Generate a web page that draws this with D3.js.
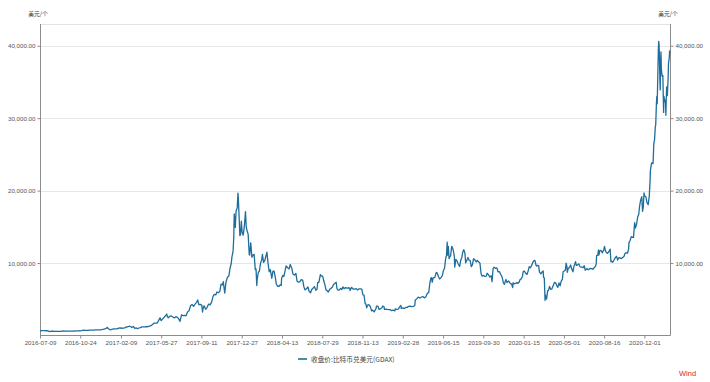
<!DOCTYPE html>
<html><head><meta charset="utf-8">
<script src="https://cdn.jsdelivr.net/npm/d3@7"></script>
<style>html,body{margin:0;padding:0;background:#fff;}svg{display:block;}</style>
</head><body>
<script>
// ---- data ----
const dates2016 = ["2016-07-09","2016-07-13","2016-07-17","2016-07-21","2016-07-25","2016-07-29","2016-08-01","2016-08-02","2016-08-05","2016-08-09","2016-08-13","2016-08-17","2016-08-21","2016-08-25","2016-08-29","2016-09-02","2016-09-06","2016-09-10","2016-09-14","2016-09-18","2016-09-22","2016-09-26","2016-09-30","2016-10-04","2016-10-08","2016-10-12","2016-10-16","2016-10-20","2016-10-24","2016-10-28","2016-11-01","2016-11-05","2016-11-09","2016-11-13","2016-11-17","2016-11-21","2016-11-25","2016-11-29","2016-12-03","2016-12-07","2016-12-11","2016-12-15","2016-12-19","2016-12-22","2016-12-26","2016-12-30"];
const closes2016 = [650,665,680,665,655,655,605,545,575,590,585,575,582,578,574,575,610,623,610,608,596,607,609,610,618,637,640,630,653,688,730,703,720,700,740,738,735,732,765,765,770,778,790,860,895,960];

const dates2017 = ["2017-01-01","2017-01-04","2017-01-05","2017-01-08","2017-01-11","2017-01-14","2017-01-18","2017-01-22","2017-01-26","2017-01-30","2017-02-03","2017-02-07","2017-02-11","2017-02-15","2017-02-19","2017-02-23","2017-02-27","2017-03-03","2017-03-07","2017-03-10","2017-03-14","2017-03-18","2017-03-22","2017-03-25","2017-03-29","2017-04-02","2017-04-06","2017-04-10","2017-04-14","2017-04-18","2017-04-22","2017-04-26","2017-04-30","2017-05-04","2017-05-08","2017-05-12","2017-05-16","2017-05-20","2017-05-24","2017-05-25","2017-05-27","2017-05-31","2017-06-04","2017-06-07","2017-06-11","2017-06-12","2017-06-15","2017-06-19","2017-06-23","2017-06-27","2017-07-01","2017-07-05","2017-07-09","2017-07-12","2017-07-16","2017-07-20","2017-07-24","2017-07-28","2017-08-01","2017-08-05","2017-08-09","2017-08-13","2017-08-17","2017-08-21","2017-08-25","2017-08-29","2017-09-01","2017-09-04","2017-09-08","2017-09-12","2017-09-14","2017-09-15","2017-09-18","2017-09-22","2017-09-26","2017-09-30","2017-10-04","2017-10-08","2017-10-12","2017-10-15","2017-10-19","2017-10-22","2017-10-26","2017-10-30","2017-11-02","2017-11-06","2017-11-08","2017-11-10","2017-11-12","2017-11-15","2017-11-19","2017-11-23","2017-11-26","2017-11-29","2017-12-01","2017-12-04","2017-12-06","2017-12-07","2017-12-08","2017-12-10","2017-12-12","2017-12-15","2017-12-17","2017-12-18","2017-12-20","2017-12-22","2017-12-24","2017-12-26","2017-12-28","2017-12-31"];
const closes2017 = [998,1130,1000,905,780,820,885,920,915,920,1015,1050,1000,1005,1050,1175,1190,1280,1230,1110,1245,970,1040,930,1040,1090,1195,1190,1180,1210,1240,1290,1350,1510,1700,1700,1720,2050,2450,2300,2050,2300,2520,2700,2960,2650,2450,2650,2700,2550,2430,2600,2500,2350,1950,2850,2750,2780,2730,3230,3400,4100,4300,4030,4340,4580,4900,4250,4300,4160,3240,3700,4100,3620,3890,4340,4220,4600,5440,5680,5600,6000,5900,6130,7100,6980,7450,6600,5860,7300,8050,8240,9300,9900,10850,11620,13700,16800,16300,14900,17200,17600,19650,18900,16500,13800,13900,15800,14300,13850];

const dates2018 = ["2018-01-03","2018-01-06","2018-01-08","2018-01-10","2018-01-13","2018-01-16","2018-01-17","2018-01-20","2018-01-23","2018-01-26","2018-01-29","2018-02-01","2018-02-03","2018-02-05","2018-02-06","2018-02-09","2018-02-12","2018-02-15","2018-02-18","2018-02-20","2018-02-23","2018-02-26","2018-03-01","2018-03-04","2018-03-07","2018-03-10","2018-03-13","2018-03-17","2018-03-20","2018-03-23","2018-03-26","2018-03-29","2018-04-01","2018-04-05","2018-04-08","2018-04-11","2018-04-12","2018-04-15","2018-04-18","2018-04-21","2018-04-24","2018-04-28","2018-05-02","2018-05-05","2018-05-09","2018-05-12","2018-05-16","2018-05-20","2018-05-23","2018-05-27","2018-05-30","2018-06-03","2018-06-07","2018-06-10","2018-06-13","2018-06-17","2018-06-21","2018-06-24","2018-06-28","2018-07-01","2018-07-05","2018-07-08","2018-07-12","2018-07-15","2018-07-17","2018-07-20","2018-07-24","2018-07-27","2018-07-30","2018-08-02","2018-08-05","2018-08-08","2018-08-11","2018-08-14","2018-08-18","2018-08-21","2018-08-25","2018-08-28","2018-09-01","2018-09-04","2018-09-06","2018-09-09","2018-09-12","2018-09-16","2018-09-19","2018-09-22","2018-09-25","2018-09-29","2018-10-02","2018-10-06","2018-10-10","2018-10-11","2018-10-15","2018-10-19","2018-10-23","2018-10-27","2018-10-31","2018-11-04","2018-11-08","2018-11-11","2018-11-14","2018-11-17","2018-11-19","2018-11-20","2018-11-22","2018-11-24","2018-11-25","2018-11-28","2018-12-01","2018-12-04","2018-12-07","2018-12-10","2018-12-14","2018-12-17","2018-12-19","2018-12-20","2018-12-24","2018-12-27","2018-12-31"];
const closes2018 = [15100,17100,15000,14500,14000,11200,11100,12800,10800,11100,11200,9100,9200,6900,7700,8700,8900,10000,10400,11200,10100,10300,10900,11500,9950,8800,9100,7900,8900,8900,8100,7100,6800,6800,7000,6900,7900,8300,8150,8900,9600,9350,9200,9800,9300,8500,8350,8550,7500,7350,7400,7700,7650,6750,6300,6450,6700,6100,5900,6350,6550,6750,6250,6350,7320,7350,8400,8200,8200,7550,7030,6300,6200,6000,6400,6480,6700,7050,7200,7350,6500,6250,6280,6500,6350,6720,6450,6610,6540,6590,6550,6200,6650,6420,6410,6460,6300,6450,6430,6410,5600,5580,4800,4400,4350,3820,4000,4260,4200,3950,3400,3500,3260,3550,3750,4050,4050,3600,3700];

const dates2019 = ["2019-01-03","2019-01-06","2019-01-09","2019-01-10","2019-01-14","2019-01-18","2019-01-22","2019-01-26","2019-01-29","2019-02-02","2019-02-07","2019-02-08","2019-02-12","2019-02-16","2019-02-19","2019-02-23","2019-02-24","2019-02-28","2019-03-04","2019-03-08","2019-03-12","2019-03-16","2019-03-20","2019-03-24","2019-03-28","2019-04-01","2019-04-02","2019-04-06","2019-04-10","2019-04-14","2019-04-18","2019-04-22","2019-04-26","2019-04-30","2019-05-04","2019-05-08","2019-05-11","2019-05-14","2019-05-16","2019-05-17","2019-05-20","2019-05-24","2019-05-28","2019-05-30","2019-06-03","2019-06-06","2019-06-10","2019-06-13","2019-06-16","2019-06-19","2019-06-22","2019-06-24","2019-06-26","2019-06-27","2019-06-29","2019-07-01","2019-07-02","2019-07-05","2019-07-08","2019-07-10","2019-07-12","2019-07-15","2019-07-16","2019-07-19","2019-07-22","2019-07-25","2019-07-29","2019-08-01","2019-08-04","2019-08-06","2019-08-09","2019-08-12","2019-08-14","2019-08-17","2019-08-20","2019-08-23","2019-08-26","2019-08-29","2019-09-01","2019-09-04","2019-09-07","2019-09-11","2019-09-14","2019-09-18","2019-09-21","2019-09-24","2019-09-27","2019-10-01","2019-10-04","2019-10-08","2019-10-10","2019-10-14","2019-10-17","2019-10-21","2019-10-23","2019-10-25","2019-10-26","2019-10-29","2019-11-01","2019-11-05","2019-11-08","2019-11-12","2019-11-15","2019-11-18","2019-11-21","2019-11-22","2019-11-25","2019-11-29","2019-12-02","2019-12-06","2019-12-10","2019-12-14","2019-12-17","2019-12-18","2019-12-21","2019-12-25","2019-12-28","2019-12-31"];
const closes2019 = [3790,4050,4000,3620,3640,3600,3580,3570,3430,3500,3400,3660,3610,3630,3920,4140,3730,3810,3720,3870,3880,4030,4040,3990,4030,4140,4900,5050,5300,5170,5280,5380,5200,5330,5800,5950,7250,8000,7900,7350,8000,7980,8720,8660,8100,7800,8020,8250,8980,9280,10700,11000,12900,11100,12300,10600,10800,11000,12300,12100,11800,10900,9450,10500,10300,9900,9520,10400,10800,11450,11850,11400,10030,10370,10770,10400,10350,9500,9750,10600,10480,10150,10350,10150,9990,8530,8190,8300,8150,8200,8590,8370,8080,8230,7440,8650,9250,9430,9260,9330,8800,8810,8460,8200,7620,7290,7050,7740,7300,7540,7220,7090,6620,7280,7140,7200,7300,7200];

const dates2020 = ["2020-01-03","2020-01-06","2020-01-09","2020-01-12","2020-01-14","2020-01-17","2020-01-20","2020-01-24","2020-01-27","2020-01-30","2020-02-02","2020-02-06","2020-02-09","2020-02-12","2020-02-14","2020-02-17","2020-02-19","2020-02-21","2020-02-24","2020-02-26","2020-03-01","2020-03-04","2020-03-07","2020-03-08","2020-03-10","2020-03-12","2020-03-13","2020-03-16","2020-03-19","2020-03-21","2020-03-24","2020-03-27","2020-03-30","2020-04-02","2020-04-06","2020-04-09","2020-04-12","2020-04-15","2020-04-18","2020-04-21","2020-04-24","2020-04-27","2020-04-29","2020-05-02","2020-05-05","2020-05-07","2020-05-09","2020-05-10","2020-05-13","2020-05-16","2020-05-19","2020-05-22","2020-05-25","2020-05-28","2020-06-01","2020-06-03","2020-06-07","2020-06-10","2020-06-13","2020-06-17","2020-06-21","2020-06-24","2020-06-27","2020-07-01","2020-07-05","2020-07-09","2020-07-13","2020-07-17","2020-07-21","2020-07-24","2020-07-26","2020-07-27","2020-07-30","2020-08-01","2020-08-02","2020-08-05","2020-08-09","2020-08-11","2020-08-15","2020-08-17","2020-08-19","2020-08-21","2020-08-25","2020-08-28","2020-09-01","2020-09-03","2020-09-05","2020-09-08","2020-09-11","2020-09-15","2020-09-18","2020-09-21","2020-09-24","2020-09-28","2020-10-01","2020-10-05","2020-10-08","2020-10-10","2020-10-13","2020-10-17","2020-10-20","2020-10-21","2020-10-24","2020-10-27","2020-10-30","2020-11-02","2020-11-05","2020-11-07","2020-11-10","2020-11-13","2020-11-16","2020-11-18","2020-11-21","2020-11-24","2020-11-26","2020-11-28","2020-11-30","2020-12-02","2020-12-05","2020-12-08","2020-12-11","2020-12-14","2020-12-16","2020-12-17","2020-12-20","2020-12-22","2020-12-24","2020-12-26","2020-12-28","2020-12-30","2020-12-31"];
const closes2020 = [7350,7760,7820,8190,8830,8910,8630,8430,8890,9500,9350,9750,10150,10360,10360,9700,9600,9690,9650,8790,8520,8760,8900,8030,7930,4850,5600,5030,6190,6200,6770,6370,6400,6800,7320,7300,6900,6640,7260,6850,7500,7750,8800,8900,9030,9990,9540,8720,9310,9380,9730,9170,8790,9580,10200,9670,9760,9890,9470,9450,9360,9630,9010,9230,9080,9250,9240,9150,9390,9540,9920,11040,11100,11800,11100,11760,11680,11400,11840,12290,11750,11530,11330,11530,11920,10170,10250,10120,10390,10780,10930,10420,10740,10700,10620,10790,10930,11300,11430,11360,11920,12820,13120,13650,13560,13550,15580,14830,15320,16320,16730,17780,18690,19160,17150,17720,19700,19220,19150,18320,18050,19270,21310,22800,23840,23830,23730,26500,27050,28880,28990];

const dates2021 = ["2021-01-02","2021-01-03","2021-01-04","2021-01-06","2021-01-07","2021-01-08","2021-01-09","2021-01-10","2021-01-11","2021-01-12","2021-01-13","2021-01-14","2021-01-15","2021-01-17","2021-01-19","2021-01-21","2021-01-22","2021-01-24","2021-01-26","2021-01-27","2021-01-29","2021-01-31","2021-02-02","2021-02-03","2021-02-05","2021-02-06","2021-02-07"];
const closes2021 = [32170,33000,31990,36770,39400,40600,40150,38200,35500,33900,37300,39150,36800,35800,35900,30800,33000,32300,32500,30400,34300,33100,35500,37600,38300,39300,38900];

const xTickLabels = ["2016-07-09","2016-10-24","2017-02-09","2017-05-27","2017-09-11","2017-12-27","2018-04-13","2018-07-29","2018-11-13","2019-02-28","2019-06-15","2019-09-30","2020-01-15","2020-05-01","2020-08-16","2020-12-01"];
const yTickValues = [10000, 20000, 30000, 40000];
const seriesName = "收盘价:比特币兑美元(GDAX)";
const unitLabel = "美元/个";
const sourceLabel = "Wind";

// ---- build ----
const parse = d3.timeParse("%Y-%m-%d");
const allDates = [].concat(dates2016, dates2017, dates2018, dates2019, dates2020, dates2021);
const allCloses = [].concat(closes2016, closes2017, closes2018, closes2019, closes2020, closes2021);
const data = allDates.map((d, i) => ({date: parse(d), value: allCloses[i]}));

const W = 710, H = 382;
const L = 40, R = 670, T = 24, B = 335.5;

const svg = d3.select("body").append("svg").attr("width", W).attr("height", H)
  .style("font-family", "'Liberation Sans', Arial, sans-serif");
svg.append("rect").attr("width", W).attr("height", H).attr("fill", "#fff");

const x = d3.scaleTime().domain([parse("2016-07-09"), parse("2021-02-07")]).range([L, R]);
const y = d3.scaleLinear().domain([0, 43000]).range([B, T]);

// grid
svg.append("g").selectAll("line").data(yTickValues).join("line")
  .attr("x1", L).attr("x2", R)
  .attr("y1", d => Math.round(y(d)) + 0.5).attr("y2", d => Math.round(y(d)) + 0.5)
  .attr("stroke", "#e6e6e6").attr("stroke-width", 1);
svg.append("line").attr("x1", L).attr("x2", R).attr("y1", T + 0.5).attr("y2", T + 0.5)
  .attr("stroke", "#e3e3e3");

const fmt = d3.format(",.2f");
const axisColor = "#8c8c8c";
const textColor = "#555";

// left axis
const gl = svg.append("g").attr("transform", `translate(${L + 0.5},0)`)
  .call(d3.axisLeft(y).tickValues(yTickValues).tickFormat(fmt).tickSize(3).tickPadding(2));
// right axis
const gr = svg.append("g").attr("transform", `translate(${R + 0.5},0)`)
  .call(d3.axisRight(y).tickValues(yTickValues).tickFormat(fmt).tickSize(3).tickPadding(2));
// bottom axis
const gb = svg.append("g").attr("transform", `translate(0,${B})`)
  .call(d3.axisBottom(x).tickValues(xTickLabels.map(parse)).tickFormat(d3.timeFormat("%Y-%m-%d")).tickSize(3).tickPadding(2));

[gl, gr, gb].forEach(g => {
  g.select(".domain").attr("stroke", axisColor);
  g.selectAll(".tick line").attr("stroke", axisColor);
  g.selectAll(".tick text").attr("fill", textColor).style("font-size", "6.2px")
    .style("font-family", "'Liberation Sans', Arial, sans-serif");
});
gl.select(".domain").attr("d", `M0,${T}V${B}`);
gr.select(".domain").attr("d", `M0,${T}V${B}`);
gb.select(".domain").attr("d", `M${L},0H${R + 0.5}`);

// line
const line = d3.line().x(d => x(d.date)).y(d => y(d.value));
svg.append("path").datum(data).attr("d", line)
  .attr("fill", "none").attr("stroke", "#1f6d9c").attr("stroke-width", 1.3)
  .attr("stroke-linejoin", "round");

// unit labels
svg.append("text").attr("x", 38).attr("y", 15.5).attr("text-anchor", "middle")
  .style("font-family", "'Noto Sans CJK SC', sans-serif").style("font-size", "5.8px")
  .attr("fill", "#333").text(unitLabel);
svg.append("text").attr("x", 668).attr("y", 15.5).attr("text-anchor", "middle")
  .style("font-family", "'Noto Sans CJK SC', sans-serif").style("font-size", "5.8px")
  .attr("fill", "#333").text(unitLabel);

// legend
svg.append("line").attr("x1", 298).attr("x2", 307).attr("y1", 359).attr("y2", 359)
  .attr("stroke", "#1f6d9c").attr("stroke-width", 1.6);
svg.append("text").attr("x", 311).attr("y", 361.5)
  .style("font-family", "'Noto Sans CJK SC', sans-serif").style("font-size", "6.7px")
  .attr("fill", "#444").text(seriesName);

// source
svg.append("text").attr("x", 679).attr("y", 376)
  .style("font-size", "7.5px").attr("fill", "#e0262b").text(sourceLabel);
</script>
</body></html>
